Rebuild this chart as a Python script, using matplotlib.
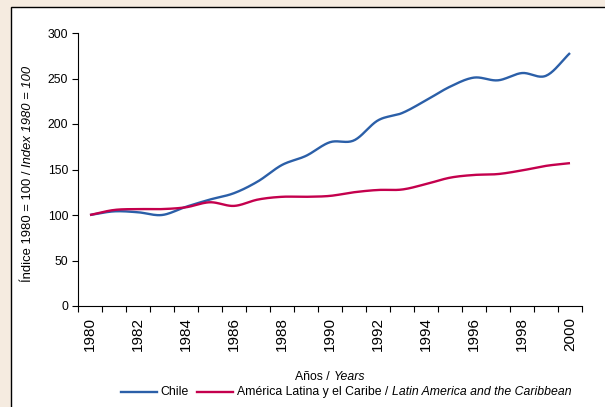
import numpy as np
import matplotlib
matplotlib.use("Agg")
import matplotlib.pyplot as plt
from matplotlib.patches import Rectangle
from matplotlib.lines import Line2D

plt.rcParams['font.family'] = ['Liberation Sans', 'DejaVu Sans']

# Index 1980 = 100
years = list(range(1980, 2001))
chile = [100, 104, 103, 100, 109, 117, 124, 137, 155, 165, 180,
         182, 204, 212, 226, 241, 251, 248, 256, 253, 278]
latam = [100, 105.5, 106.5, 106.5, 108.5, 114, 110, 117, 120, 120, 121,
         125, 127.5, 128, 134, 141, 144, 145, 149, 154, 157]
tick_years = years[::2]

blue = '#2b5fa8'
red = '#c4004d'
W, H = 605, 407


def smooth(x, y, n=20):
    # Catmull-Rom curve through the points (like Excel's smoothed line)
    x = np.asarray(x, float)
    y = np.asarray(y, float)
    px = np.concatenate([[2 * x[0] - x[1]], x, [2 * x[-1] - x[-2]]])
    py = np.concatenate([[2 * y[0] - y[1]], y, [2 * y[-1] - y[-2]]])
    t = np.linspace(0, 1, n, endpoint=False)
    xs, ys = [], []
    for i in range(1, len(px) - 2):
        for p, out in ((px, xs), (py, ys)):
            p0, p1, p2, p3 = p[i - 1], p[i], p[i + 1], p[i + 2]
            out.extend(0.5 * ((2 * p1) + (-p0 + p2) * t
                              + (2 * p0 - 5 * p1 + 4 * p2 - p3) * t ** 2
                              + (-p0 + 3 * p1 - 3 * p2 + p3) * t ** 3))
    xs.append(x[-1])
    ys.append(y[-1])
    return xs, ys


def rich(fig, x, y, pieces, size, vertical=False, center=False):
    # draw (text, style) pieces one after another, starting at pixel (x, y from top)
    r = fig.canvas.get_renderer()
    pos = 0
    made = []
    for s, style in pieces:
        if vertical:
            t = fig.text(x / W, 1 - (y - pos) / H, s, rotation=90, fontsize=size,
                         style=style, ha='center', va='bottom')
            pos += t.get_window_extent(r).height
        else:
            t = fig.text((x + pos) / W, 1 - y / H, s, fontsize=size,
                         style=style, ha='left', va='center')
            pos += t.get_window_extent(r).width
        made.append(t)
    if center and not vertical:
        for t in made:
            tx, ty = t.get_position()
            t.set_position((tx - pos / 2 / W, ty))


fig = plt.figure(figsize=(6.05, 4.07), dpi=100, facecolor='#f5ebe0')
fig.patches.append(Rectangle((11 / W, -0.01), 1.0, 1 - 7 / H + 0.01,
                             transform=fig.transFigure, facecolor='white',
                             edgecolor='black', linewidth=1.0, zorder=-5))

ax = fig.add_axes([78 / W, 1 - 306 / H, 504 / W, 273 / H])
ax.set_facecolor('none')

xs, ys = smooth(years, chile)
ax.plot(xs, ys, color=blue, lw=1.7, solid_capstyle='butt')
xs, ys = smooth(years, latam)
ax.plot(xs, ys, color=red, lw=1.7, solid_capstyle='butt')

ax.set_xlim(years[0] - 0.5, years[-1] + 0.5)
ax.set_ylim(0, 300)
ax.set_yticks(range(0, 301, 50))
ax.set_xticks(tick_years)
ax.set_xticklabels([str(y) for y in tick_years], rotation=90, fontsize=11)
ax.set_xticks(np.arange(years[0] - 0.5, years[-1] + 1, 1), minor=True)
ax.tick_params(axis='x', which='major', length=0, pad=8)
ax.tick_params(axis='x', which='minor', length=4, width=0.8, direction='out')
ax.tick_params(axis='y', length=4, width=0.8, labelsize=8.8, pad=3)
for s in ('top', 'right'):
    ax.spines[s].set_visible(False)
for s in ('left', 'bottom'):
    ax.spines[s].set_linewidth(0.8)

# axis titles with italic English part
rich(fig, 330, 377, [('Años / ', 'normal'), ('Years', 'italic')], 8.8, center=True)
rich(fig, 28, 282, [('Índice 1980 = 100 / ', 'normal'),
                    ('Index 1980 = 100', 'italic')], 9.4, vertical=True)

# legend
ly = 392
fig.lines.append(Line2D([121 / W, 157 / W], [1 - ly / H] * 2, color=blue,
                        lw=1.7, transform=fig.transFigure))
rich(fig, 160, ly, [('Chile', 'normal')], 8.8)
fig.lines.append(Line2D([197 / W, 233 / W], [1 - ly / H] * 2, color=red,
                        lw=1.7, transform=fig.transFigure))
rich(fig, 237, ly, [('América Latina y el Caribe / ', 'normal'),
                    ('Latin America and the Caribbean', 'italic')], 8.8)

fig.savefig('out.png', dpi=100, facecolor=fig.get_facecolor())
